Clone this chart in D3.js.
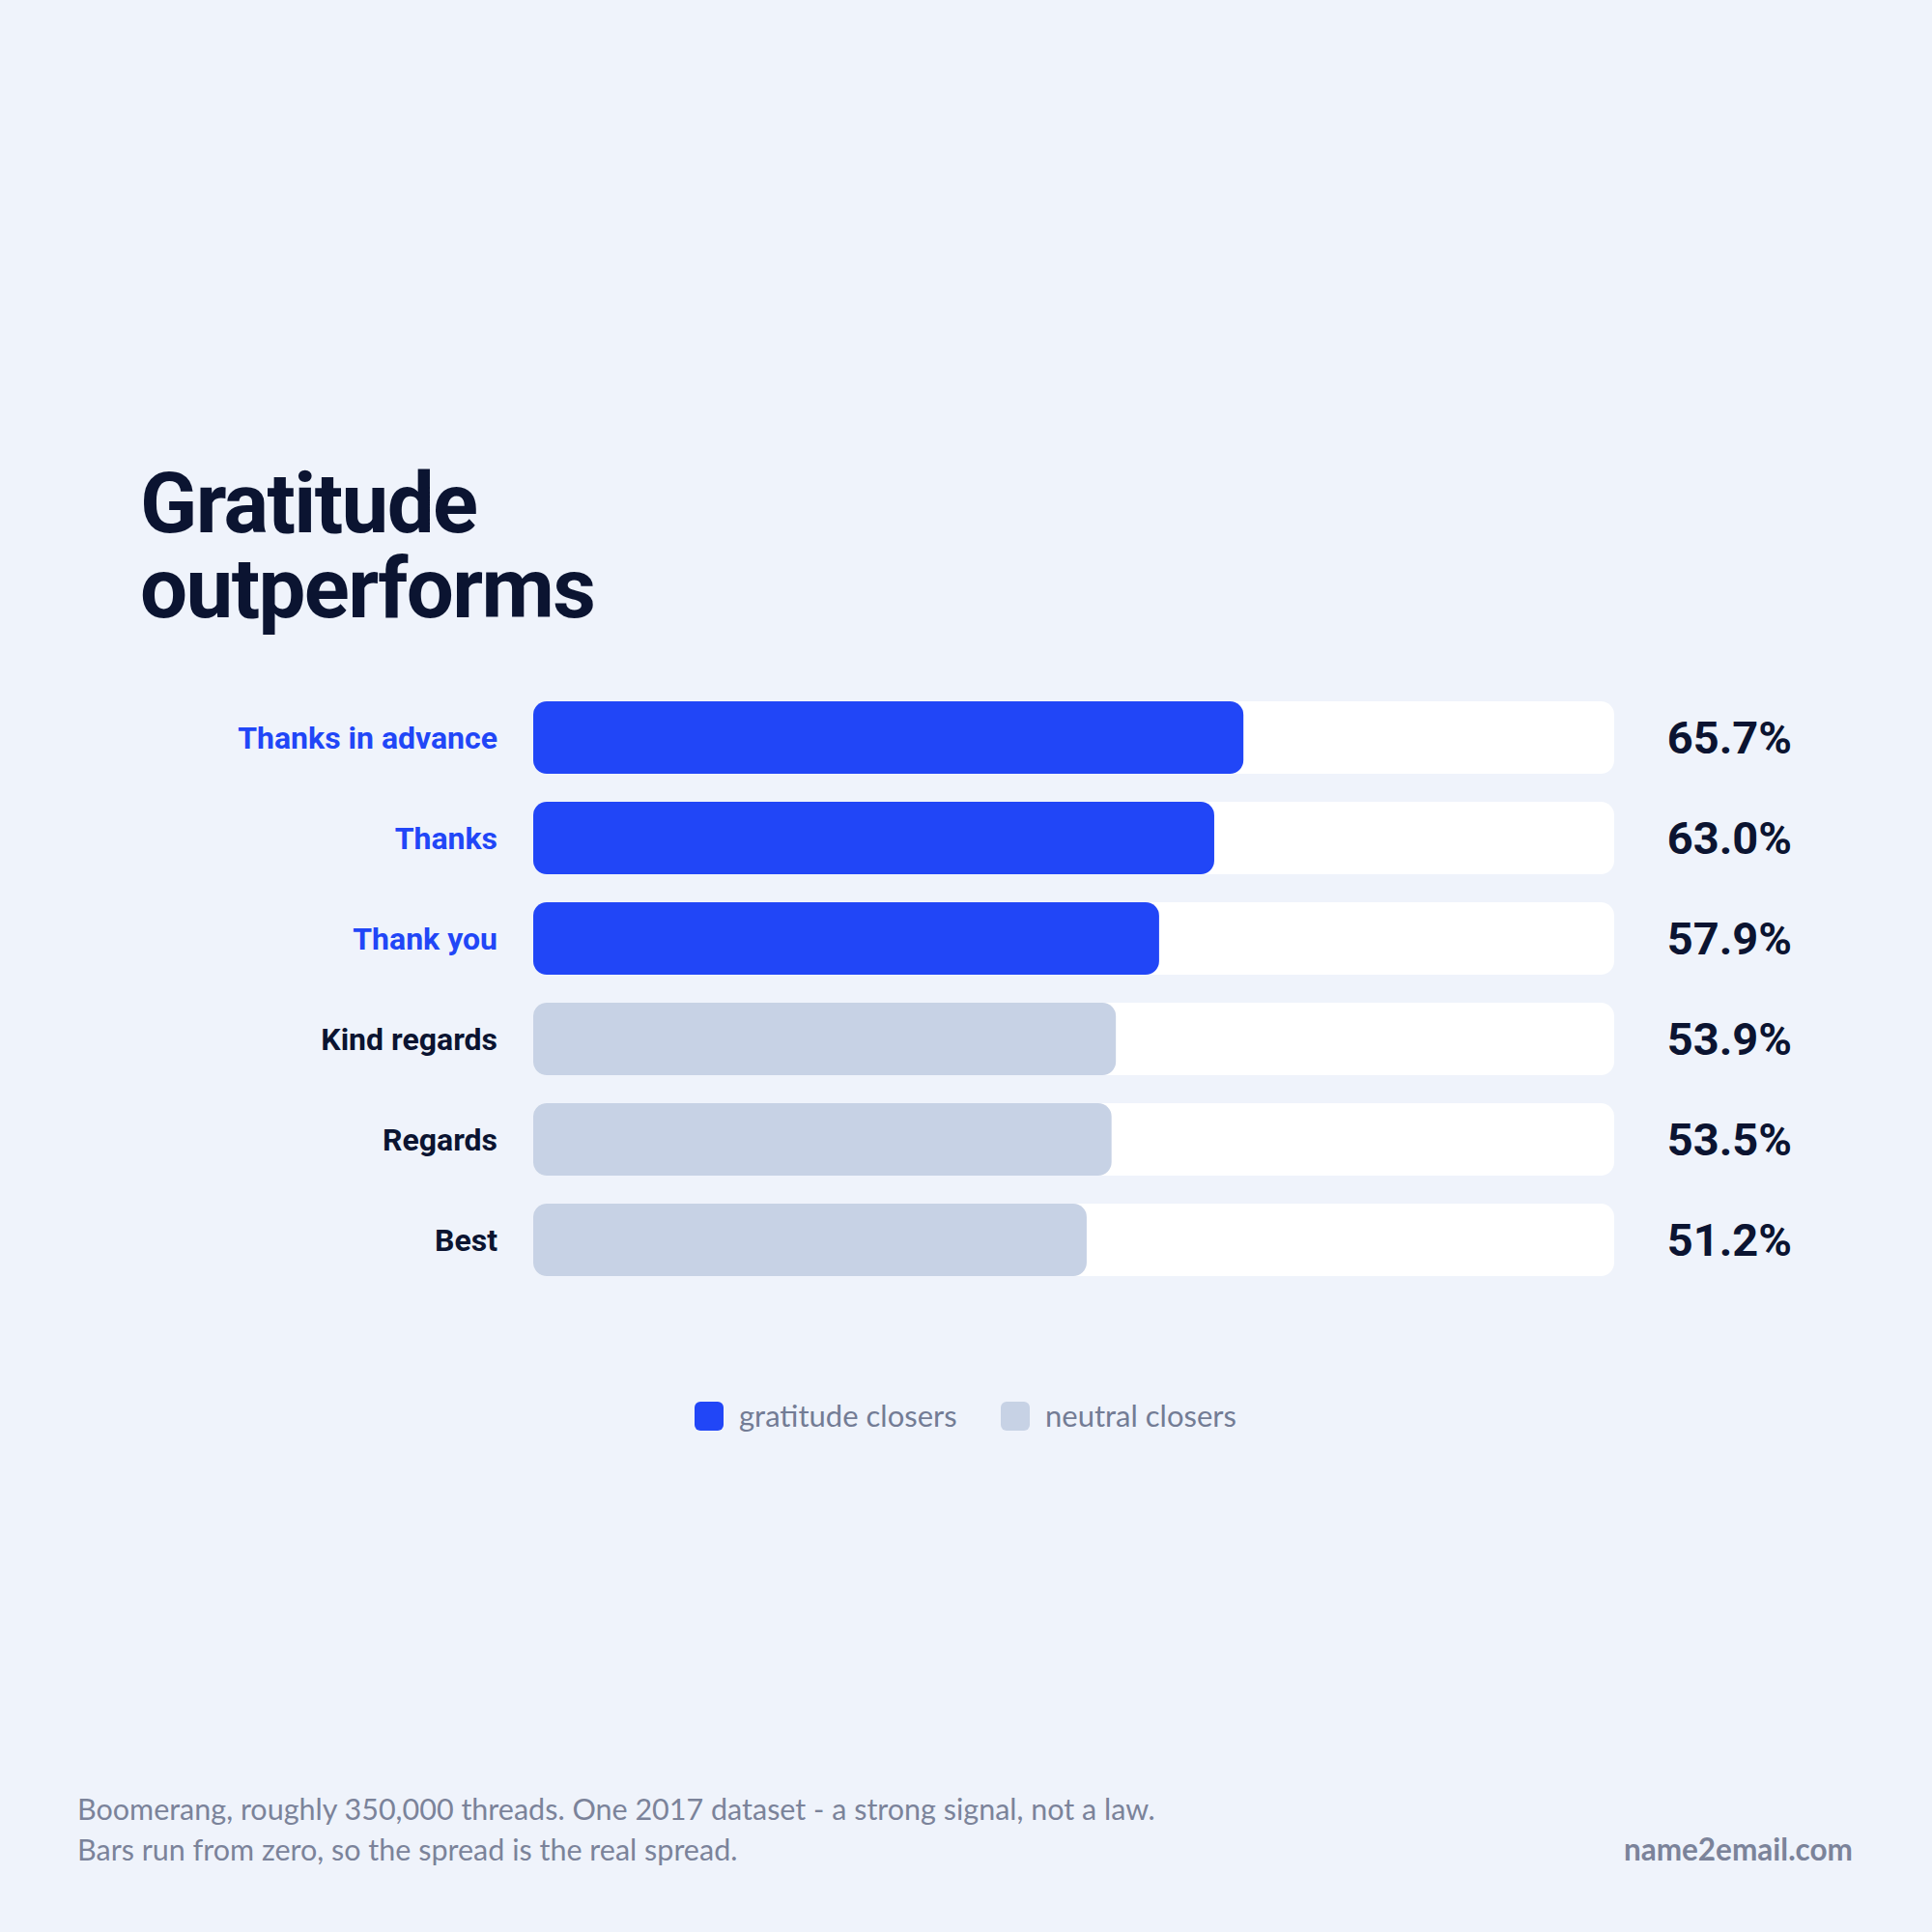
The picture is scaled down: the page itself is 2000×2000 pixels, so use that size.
<!DOCTYPE html>
<html>
<head>
<meta charset="utf-8">
<script src="https://cdn.jsdelivr.net/npm/d3@7"></script>
<style>
html,body{margin:0;padding:0;background:#EFF3FB;}
svg{display:block;}
</style>
</head>
<body>
<svg id="chart" width="2000" height="2000"></svg>
<script>
const categories = ["Thanks in advance","Thanks","Thank you","Kind regards","Regards","Best"];
const values = [65.7, 63.0, 57.9, 53.9, 53.5, 51.2];
const groups = ["gratitude","gratitude","gratitude","neutral","neutral","neutral"];
const legendLabels = ["gratitude closers","neutral closers"];
const titleLines = ["Gratitude","outperforms"];
const footerLines = ["Boomerang, roughly 350,000 threads. One 2017 dataset - a strong signal, not a law.","Bars run from zero, so the spread is the real spread."];
const brand = "name2email.com";

const BLUE = "#2146F7", GREY = "#C7D2E5", NAVY = "#0B1431", MUTED = "#737C95";
const svg = d3.select("#chart");
svg.append("rect").attr("width",2000).attr("height",2000).attr("fill","#EFF3FB");

const headFont = "Roboto, 'Noto Sans', sans-serif";
const bodyFont = "Lato, sans-serif";

// title (one text block, two lines)
svg.append("text")
  .attr("font-family",headFont).attr("font-weight",700).attr("font-size",87)
  .attr("letter-spacing",-1.6).attr("fill",NAVY)
  .selectAll("tspan").data(titleLines).join("tspan")
  .attr("x",145).attr("y",(d,i)=>551+i*88).text(d=>d);

const x = d3.scaleLinear().domain([0,100]).range([552,1671]);
const y = d3.scaleBand().domain(categories).range([726,1321]).paddingInner(29/104).paddingOuter(0);
const color = d3.scaleOrdinal().domain(["gratitude","neutral"]).range([BLUE,GREY]);
const labelColor = d3.scaleOrdinal().domain(["gratitude","neutral"]).range([BLUE,NAVY]);

const rows = svg.append("g").selectAll("g").data(categories).join("g");
const bh = y.bandwidth();
rows.append("rect").attr("x",x(0)).attr("y",d=>y(d)).attr("width",x(100)-x(0)).attr("height",bh)
  .attr("rx",14).attr("fill","#FFFFFF");
rows.append("rect").attr("x",x(0)).attr("y",d=>y(d)).attr("width",(d,i)=>x(values[i])-x(0)).attr("height",bh)
  .attr("rx",14).attr("fill",(d,i)=>color(groups[i]));
rows.append("text").attr("x",515).attr("y",d=>y(d)+bh/2).attr("dy","0.35em")
  .attr("text-anchor","end").attr("font-family",headFont).attr("font-weight",700).attr("font-size",32)
  .attr("fill",(d,i)=>labelColor(groups[i])).text(d=>d);
rows.append("text").attr("x",1855).attr("y",d=>y(d)+bh/2).attr("dy","0.36em")
  .attr("text-anchor","end").attr("font-family",headFont).attr("font-weight",700).attr("font-size",47)
  .attr("fill",NAVY).text((d,i)=>values[i].toFixed(1)+"%");

// legend
const legX = [719, 1036], legTX = [765, 1082];
const lg = svg.append("g").selectAll("g").data(legendLabels).join("g");
lg.append("rect").attr("x",(d,i)=>legX[i]).attr("y",1451).attr("width",30).attr("height",30).attr("rx",6)
  .attr("fill",(d,i)=>[BLUE,GREY][i]);
lg.append("text").attr("x",(d,i)=>legTX[i]).attr("y",1466).attr("dy","0.35em")
  .attr("font-family",bodyFont).attr("font-size",31).attr("fill",MUTED).text(d=>d);

// footer
svg.append("g").selectAll("text").data(footerLines).join("text")
  .attr("x",80).attr("y",(d,i)=>1884+i*42)
  .attr("font-family",bodyFont).attr("font-size",30.5).attr("fill","#7B839A").text(d=>d);
svg.append("text").attr("x",1918).attr("y",1926).attr("text-anchor","end")
  .attr("font-family",bodyFont).attr("font-weight",700).attr("font-size",31.5).attr("fill","#7B839A").text(brand);
</script>
</body>
</html>
